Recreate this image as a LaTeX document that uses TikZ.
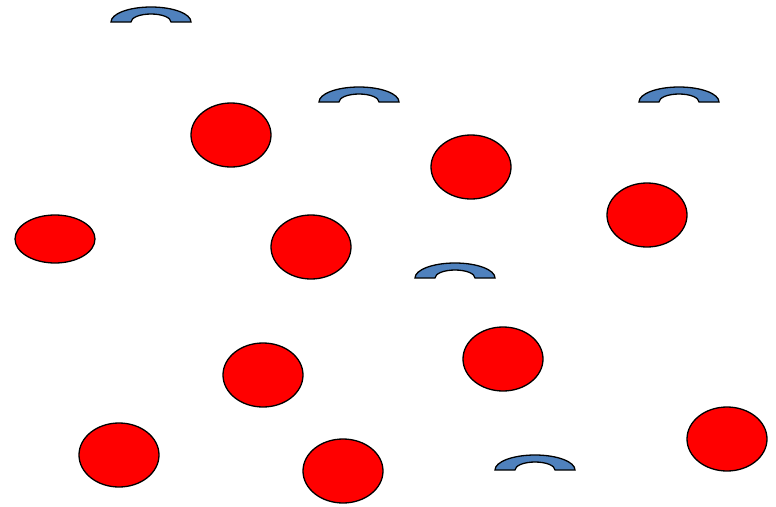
\documentclass[tikz,border=0pt]{standalone}
\begin{document}
\begin{tikzpicture}[x=1pt,y=-1pt,
  redell/.style={fill=red,draw=black,line width=1.3pt},
  archshape/.style={fill={rgb,255:red,79;green,129;blue,189},draw=black,line width=1.3pt,line join=miter}]
\useasboundingbox (0,0) rectangle (776,506);
\foreach \cx/\cy/\ry in {231/135/32, 471/167/32, 647/215/32, 55/239/24, 311/247/32, 263/375/32, 503/359/32, 119/455/32, 343/471/32, 727/439/32}{
  \draw[redell] (\cx,\cy) ellipse [x radius=40, y radius=\ry];
}
\foreach \cx/\by in {151/22, 359/102, 679/102, 455/278, 535/470}{
  \draw[archshape] (\cx-40,\by) arc[start angle=180,end angle=0,x radius=40,y radius=-15]
    -- (\cx+20,\by) arc[start angle=0,end angle=180,x radius=20,y radius=-8] -- cycle;
}
\end{tikzpicture}
\end{document}
